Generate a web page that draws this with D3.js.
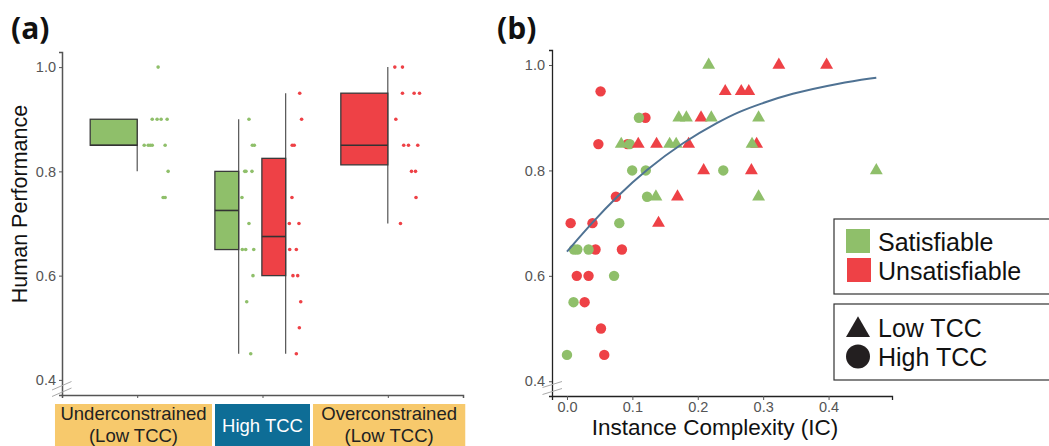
<!DOCTYPE html>
<html>
<head>
<meta charset="utf-8">
<script src="https://cdn.jsdelivr.net/npm/d3@7"></script>
<style>
  html, body { margin: 0; padding: 0; background: #fff; }
  #chart { width: 1049px; height: 446px; overflow: hidden; }
  svg text { font-family: "Liberation Sans", Arial, sans-serif; }
</style>
</head>
<body>
<div id="chart"></div>
<script>
// ---------- panel (a) data ----------
const groupNames = ['Underconstrained', 'High TCC', 'Overconstrained'];
const groupSub = ['(Low TCC)', '', '(Low TCC)'];

// one entry per box
const boxGroup  = [0, 1, 1, 2];
const boxSeries = ['Satisfiable', 'Satisfiable', 'Unsatisfiable', 'Unsatisfiable'];
const boxQ1     = [0.85, 0.65, 0.60, 0.8125];
const boxMedian = [0.85, 0.725, 0.675, 0.85];
const boxQ3     = [0.90, 0.80, 0.825, 0.95];
const boxLow    = [0.80, 0.45, 0.45, 0.70];
const boxHigh   = [0.90, 0.90, 0.95, 1.00];

// raw scores per box, with the jitter (x units)
const ptsUnderSat = [1.0, 0.9, 0.9, 0.9, 0.9, 0.85, 0.85, 0.85, 0.85, 0.85, 0.8, 0.75, 0.75];
const jitUnderSat = [0.167, 0.120, 0.159, 0.191, 0.239, 0.056, 0.088, 0.104, 0.120, 0.223, 0.247, 0.207, 0.223];
const ptsHighSat = [0.9, 0.85, 0.85, 0.8, 0.8, 0.8, 0.75, 0.7, 0.65, 0.65, 0.65, 0.6, 0.55, 0.45];
const jitHighSat = [0.082, 0.109, 0.125, 0.048, 0.058, 0.106, 0.026, 0.082, 0.029, 0.056, 0.120, 0.114, 0.064, 0.096];
const ptsHighUnsat = [0.95, 0.9, 0.85, 0.85, 0.75, 0.7, 0.7, 0.65, 0.65, 0.6, 0.6, 0.55, 0.5, 0.45];
const jitHighUnsat = [0.112, 0.127, 0.052, 0.068, 0.050, 0.029, 0.106, 0.032, 0.085, 0.058, 0.096, 0.120, 0.109, 0.085];
const ptsOverUnsat = [1.0, 1.0, 0.95, 0.95, 0.95, 0.9, 0.85, 0.85, 0.85, 0.8, 0.8, 0.75, 0.7];
const jitOverUnsat = [0.056, 0.117, 0.117, 0.210, 0.253, 0.064, 0.127, 0.165, 0.239, 0.189, 0.221, 0.225, 0.101];
const boxPoints = [ptsUnderSat, ptsHighSat, ptsHighUnsat, ptsOverUnsat];
const boxJitter = [jitUnderSat, jitHighSat, jitHighUnsat, jitOverUnsat];

const yTicksA = [0.4, 0.6, 0.8, 1.0];

// ---------- panel (b) data ----------
// High TCC instances (circles)
const circIC  = [0.000, 0.0056, 0.010, 0.0107, 0.0158, 0.015, 0.027, 0.033, 0.033, 0.039, 0.0437, 0.048, 0.0514, 0.052,
                 0.057, 0.0748, 0.072, 0.080, 0.084, 0.0925, 0.096, 0.0997, 0.110, 0.120, 0.1205, 0.1225, 0.239];
const circHP  = [0.45, 0.70, 0.55, 0.65, 0.65, 0.60, 0.55, 0.60, 0.65, 0.70, 0.65, 0.85, 0.95, 0.50,
                 0.45, 0.75, 0.60, 0.70, 0.65, 0.85, 0.85, 0.80, 0.90, 0.90, 0.80, 0.75, 0.80];
const circSat = ['S', 'U', 'S', 'S', 'S', 'U', 'U', 'U', 'S', 'U', 'U', 'U', 'U', 'U',
                 'U', 'U', 'S', 'S', 'U', 'U', 'S', 'S', 'S', 'U', 'S', 'S', 'S'];
// Low TCC instances (triangles)
const triIC  = [0.083, 0.109, 0.136, 0.137, 0.140, 0.157, 0.167, 0.169, 0.171, 0.1826, 0.186, 0.205, 0.209,
                0.2167, 0.2207, 0.242, 0.2665, 0.278, 0.282, 0.290, 0.283, 0.293, 0.293, 0.324, 0.397, 0.473];
const triHP  = [0.85, 0.85, 0.75, 0.85, 0.70, 0.85, 0.85, 0.75, 0.90, 0.90, 0.85, 0.90, 0.80,
                1.00, 0.90, 0.95, 0.95, 0.95, 0.80, 0.85, 0.85, 0.90, 0.75, 1.00, 1.00, 0.80];
const triSat = ['S', 'U', 'S', 'U', 'U', 'S', 'S', 'U', 'S', 'S', 'U', 'U', 'U',
                'S', 'S', 'U', 'U', 'U', 'U', 'U', 'S', 'S', 'S', 'U', 'U', 'S'];

// fitted curve
const fitIC = [0, 0.04, 0.076, 0.12, 0.178, 0.233, 0.264, 0.295, 0.34, 0.417, 0.473];
const fitHP = [0.646, 0.703, 0.750, 0.800, 0.854, 0.893, 0.912, 0.926, 0.945, 0.966, 0.976];

const xTicksB = [0.0, 0.1, 0.2, 0.3, 0.4];
const yTicksB = [0.4, 0.6, 0.8, 1.0];

const GREEN = '#8fbf6a';
const RED = '#ee4146';
const seriesColor = s => (s === 'Satisfiable' || s === 'S') ? GREEN : RED;

const svg = d3.select('#chart').append('svg')
  .attr('width', 1049).attr('height', 446);

// ================= panel (a) =================
function drawPanelA() {
  const x = d3.scaleLinear().domain([0.4, 3.6]).range([62, 463]);
  const y = d3.scaleLinear().domain([0.371, 1.029]).range([395, 52]);
  const g = svg.append('g');

  svg.append('text').attr('x', 11).attr('y', 39)
    .style('font-family', '"Open Sans", sans-serif').style('font-weight', 700)
    .style('font-size', '30px').attr('fill', '#111').text('(a)');

  // y axis
  const yAxis = g.append('g').attr('transform', 'translate(62,0)')
    .call(d3.axisLeft(y).tickValues(yTicksA).tickFormat(d3.format('.1f')).tickSize(3).tickPadding(3));
  yAxis.select('.domain').attr('stroke', '#555').attr('stroke-width', 1.5);
  yAxis.selectAll('.tick line').attr('stroke', '#555');
  yAxis.selectAll('text').attr('fill', '#555').style('font-size', '14.5px');

  // x axis (ticks only)
  const xAxis = g.append('g').attr('transform', 'translate(0,395)')
    .call(d3.axisBottom(x).tickValues([1, 2, 3]).tickFormat('').tickSize(3));
  xAxis.select('.domain').attr('stroke', '#555').attr('stroke-width', 1.5);
  xAxis.selectAll('.tick line').attr('stroke', '#555');

  // axis break marks
  [0, 6.5].forEach(off => {
    g.append('line').attr('x1', 52).attr('y1', 390 + off).attr('x2', 71.5).attr('y2', 381.5 + off)
      .attr('stroke', '#aaa').attr('stroke-width', 1);
  });

  svg.append('text')
    .attr('transform', 'translate(27,204) rotate(-90)')
    .attr('text-anchor', 'middle')
    .style('font-size', '21.5px').attr('fill', '#111')
    .text('Human Performance');

  // box layout: single box sits left of the group tick, paired boxes dodge
  const boxes = boxGroup.map((grp, i) => {
    const paired = boxGroup.filter(v => v === grp).length > 1;
    const width = paired ? 0.19 : 0.375;
    const pos = !paired ? grp + 1 : grp + 1 + (boxSeries[i] === 'Satisfiable' ? -0.19 : 0.185);
    return { i, pos, width, color: seriesColor(boxSeries[i]) };
  });

  boxes.forEach(b => {
    const i = b.i;
    // whisker
    g.append('line')
      .attr('x1', x(b.pos)).attr('x2', x(b.pos))
      .attr('y1', y(boxLow[i])).attr('y2', y(boxHigh[i]))
      .attr('stroke', '#444').attr('stroke-width', 1.1);
    // box
    g.append('rect')
      .attr('x', x(b.pos - b.width)).attr('y', y(boxQ3[i]))
      .attr('width', x(b.pos) - x(b.pos - b.width))
      .attr('height', y(boxQ1[i]) - y(boxQ3[i]))
      .attr('fill', b.color).attr('stroke', '#3a3a3a').attr('stroke-width', 1.3);
    g.append('line')
      .attr('x1', x(b.pos - b.width)).attr('x2', x(b.pos))
      .attr('y1', y(boxMedian[i])).attr('y2', y(boxMedian[i]))
      .attr('stroke', '#333').attr('stroke-width', 1.6);
    // jittered points
    g.selectAll(null).data(boxPoints[i]).enter().append('circle')
      .attr('cx', (d, k) => x(b.pos + boxJitter[i][k]))
      .attr('cy', d => y(d))
      .attr('r', 1.8)
      .attr('fill', b.color);
  });

  // category label boxes
  const edges = [0.344, 1.609, 2.391, 3.63];
  const bg = ['#f7c96c', '#0e6d96', '#f7c96c'];
  groupNames.forEach((name, i) => {
    const x0 = x(edges[i]) + (i > 0 ? 1.5 : 0);
    const x1 = x(edges[i + 1]) - 1.5;
    const cx = (x0 + x1) / 2;
    svg.append('rect').attr('x', x0).attr('y', 404).attr('width', x1 - x0).attr('height', 46).attr('fill', bg[i]);
    if (groupSub[i]) {
      svg.append('text').attr('x', cx).attr('y', 419.5).attr('text-anchor', 'middle')
        .style('font-size', '18.5px').attr('fill', '#222').text(name);
      svg.append('text').attr('x', cx).attr('y', 441.5).attr('text-anchor', 'middle')
        .style('font-size', '18.5px').attr('fill', '#222').text(groupSub[i]);
    } else {
      svg.append('text').attr('x', cx).attr('y', 431.5).attr('text-anchor', 'middle')
        .style('font-size', '18.5px').attr('fill', '#fff').text(name);
    }
  });
}

// ================= panel (b) =================
function drawPanelB() {
  const x = d3.scaleLinear().domain([-0.0229, 0.497]).range([552, 892]);
  const y = d3.scaleLinear().domain([0.372, 1.0285]).range([396, 50]);
  const g = svg.append('g');

  svg.append('text').attr('x', 497).attr('y', 39)
    .style('font-family', '"Open Sans", sans-serif').style('font-weight', 700)
    .style('font-size', '30px').attr('fill', '#111').text('(b)');

  const yAxis = g.append('g').attr('transform', 'translate(552,0)')
    .call(d3.axisLeft(y).tickValues(yTicksB).tickFormat(d3.format('.1f')).tickSize(3).tickPadding(4));
  yAxis.select('.domain').attr('stroke', '#222').attr('stroke-width', 1.3);
  yAxis.selectAll('.tick line').attr('stroke', '#555');
  yAxis.selectAll('text').attr('fill', '#555').style('font-size', '14.5px');

  const xAxis = g.append('g').attr('transform', 'translate(0,396)')
    .call(d3.axisBottom(x).tickValues(xTicksB).tickFormat(d3.format('.1f')).tickSize(4).tickPadding(2));
  xAxis.select('.domain').attr('stroke', '#222').attr('stroke-width', 1.3);
  xAxis.selectAll('.tick line').attr('stroke', '#555');
  xAxis.selectAll('text').attr('fill', '#555').style('font-size', '14.5px');

  [0, 7].forEach(off => {
    g.append('line').attr('x1', 542.5).attr('y1', 387.5 + off).attr('x2', 562).attr('y2', 381.5 + off)
      .attr('stroke', '#aaa').attr('stroke-width', 1);
  });

  svg.append('text').attr('x', 715).attr('y', 435).attr('text-anchor', 'middle')
    .style('font-size', '22.5px').attr('fill', '#111').text('Instance Complexity (IC)');

  // unsatisfiable first, satisfiable drawn on top
  const circles = circIC.map((v, i) => ({ ic: v, hp: circHP[i], s: circSat[i] }))
    .sort((a, b) => (a.s === 'U' ? 0 : 1) - (b.s === 'U' ? 0 : 1));
  const tris = triIC.map((v, i) => ({ ic: v, hp: triHP[i], s: triSat[i] }))
    .sort((a, b) => (a.s === 'U' ? 0 : 1) - (b.s === 'U' ? 0 : 1));

  g.selectAll('circle.pt').data(circles).enter().append('circle')
    .attr('class', 'pt')
    .attr('cx', d => x(d.ic)).attr('cy', d => y(d.hp))
    .attr('r', 5.2)
    .attr('fill', d => seriesColor(d.s));

  const tri = d3.symbol().type(d3.symbolTriangle).size(72);
  g.selectAll('path.tri').data(tris).enter().append('path')
    .attr('class', 'tri')
    .attr('transform', d => `translate(${x(d.ic)},${y(d.hp)})`)
    .attr('d', tri)
    .attr('fill', d => seriesColor(d.s));

  // fitted curve
  const line = d3.line()
    .x((d, i) => x(fitIC[i]))
    .y(d => y(d))
    .curve(d3.curveBasis);
  g.append('path').datum(fitHP)
    .attr('fill', 'none').attr('stroke', '#4f7293').attr('stroke-width', 2)
    .attr('d', line);

  // legends
  const lg = svg.append('g');
  lg.append('rect').attr('x', 834).attr('y', 219).attr('width', 230).attr('height', 75)
    .attr('fill', '#fff').attr('stroke', '#333').attr('stroke-width', 1.2);
  lg.append('rect').attr('x', 834).attr('y', 304).attr('width', 230).attr('height', 76)
    .attr('fill', '#fff').attr('stroke', '#333').attr('stroke-width', 1.2);

  lg.append('rect').attr('x', 846).attr('y', 229).attr('width', 24).attr('height', 24).attr('fill', GREEN);
  lg.append('rect').attr('x', 847).attr('y', 258).attr('width', 24).attr('height', 24).attr('fill', RED);
  lg.append('text').attr('x', 878).attr('y', 251).style('font-size', '25px').attr('fill', '#111').text('Satisfiable');
  lg.append('text').attr('x', 878).attr('y', 279.5).style('font-size', '25px').attr('fill', '#111').text('Unsatisfiable');

  lg.append('path')
    .attr('transform', 'translate(858,330)')
    .attr('d', d3.symbol().type(d3.symbolTriangle).size(250))
    .attr('fill', '#231f20');
  lg.append('circle').attr('cx', 858).attr('cy', 356.5).attr('r', 12).attr('fill', '#231f20');
  lg.append('text').attr('x', 878).attr('y', 337).style('font-size', '25px').attr('fill', '#111').text('Low TCC');
  lg.append('text').attr('x', 878).attr('y', 365.5).style('font-size', '25px').attr('fill', '#111').text('High TCC');
}

drawPanelA();
drawPanelB();
</script>
</body>
</html>
